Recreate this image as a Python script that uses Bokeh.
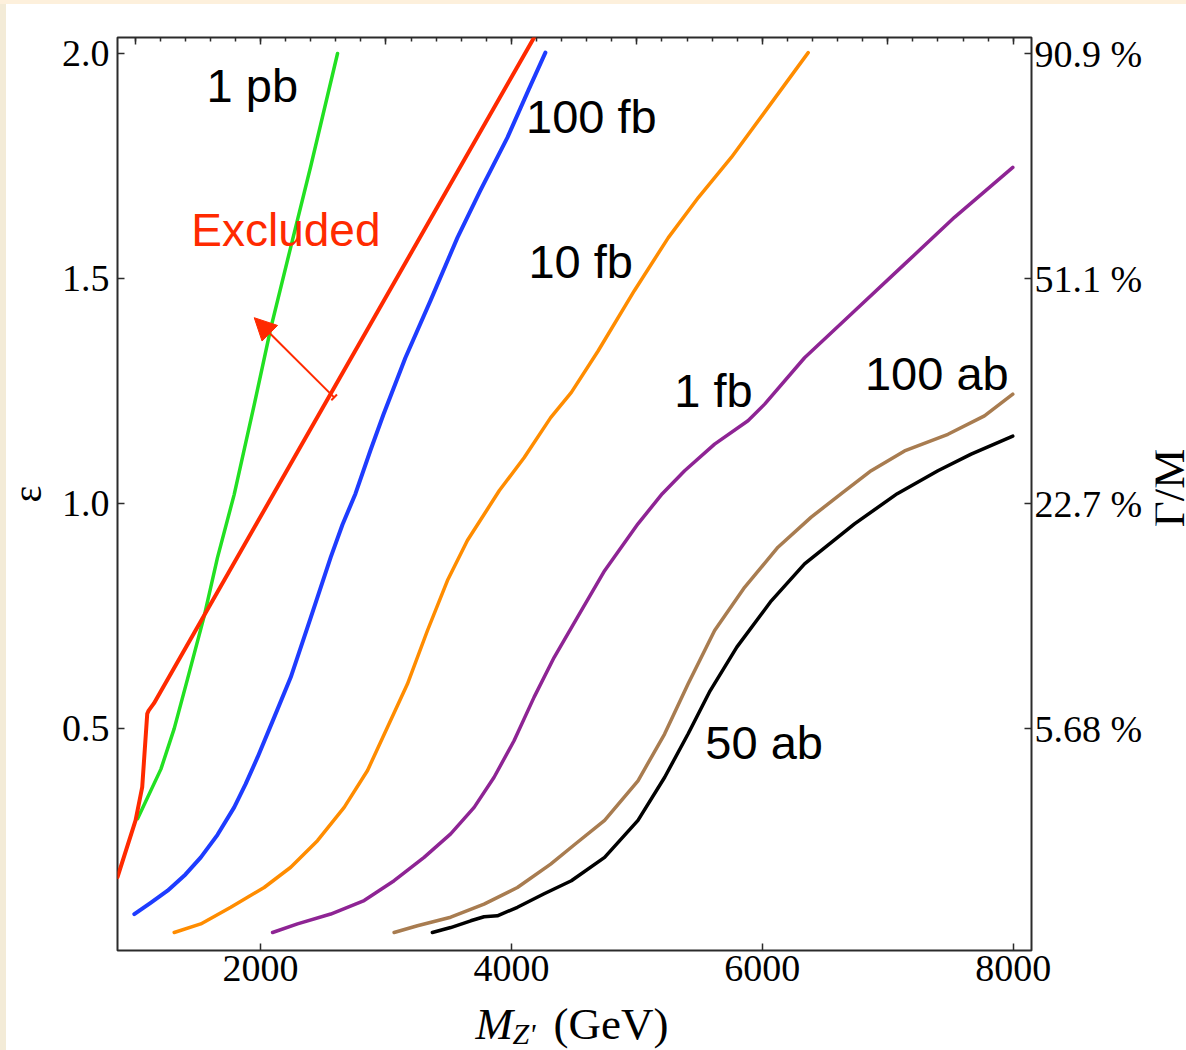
import math
from bokeh.plotting import figure
from bokeh.layouts import column, row
from bokeh.models import Range1d, LinearAxis, FixedTicker, Label, Arrow, NormalHead, TeeHead
from bokeh.embed import file_html
from bokeh.resources import INLINE

# ---------------- data ----------------
pb1_x = [1020, 1206, 1312, 1418, 1551, 1657, 1790, 1950, 2082, 2241, 2401, 2614]
pb1_y = [0.30, 0.41, 0.50, 0.61, 0.75, 0.88, 1.02, 1.22, 1.39, 1.57, 1.75, 2.00]

excl_x = [860, 1004, 1057, 1097, 1108, 1150, 4313]
excl_y = [0.170, 0.296, 0.370, 0.533, 0.540, 0.556, 2.10]

fb100_x = [994, 1124, 1259, 1402, 1524, 1657, 1790, 1880, 1976, 2109, 2241, 2401, 2560, 2653, 2757,
           2876, 2980, 3155, 3355, 3570, 3753, 3968, 4135, 4271]
fb100_y = [0.088, 0.113, 0.140, 0.176, 0.214, 0.264, 0.325, 0.376, 0.436, 0.525, 0.614, 0.747, 0.881,
           0.953, 1.022, 1.118, 1.198, 1.324, 1.451, 1.591, 1.696, 1.813, 1.918, 2.002]

fb10_x = [1312, 1524, 1763, 2029, 2241, 2454, 2667, 2853, 3012, 3171, 3331, 3490, 3649, 3801, 3904,
          4101, 4313, 4478, 4691, 4980, 5251, 5490, 5753, 6064, 6366]
fb10_y = [0.047, 0.066, 0.103, 0.147, 0.192, 0.251, 0.325, 0.407, 0.503, 0.599, 0.718, 0.829, 0.918,
          0.984, 1.029, 1.102, 1.191, 1.247, 1.339, 1.473, 1.591, 1.680, 1.769, 1.887, 2.002]

fb1_x = [2096, 2295, 2560, 2826, 3065, 3304, 3516, 3703, 3862, 4021, 4181, 4340, 4526, 4743, 5009,
         5203, 5381, 5620, 5886, 6019, 6337, 6735, 7134, 7532, 7997]
fb1_y = [0.047, 0.066, 0.088, 0.118, 0.162, 0.214, 0.266, 0.325, 0.392, 0.473, 0.570, 0.658, 0.747,
         0.851, 0.955, 1.022, 1.073, 1.132, 1.184, 1.221, 1.324, 1.428, 1.532, 1.636, 1.747]

ab100_x = [3065, 3251, 3516, 3782, 4048, 4313, 4502, 4743, 5009, 5221, 5408, 5620, 5859, 6125, 6390,
           6630, 6868, 7134, 7480, 7771, 7997]
ab100_y = [0.047, 0.062, 0.081, 0.110, 0.147, 0.199, 0.242, 0.296, 0.384, 0.488, 0.599, 0.718, 0.814,
           0.903, 0.970, 1.022, 1.073, 1.117, 1.154, 1.195, 1.243]

ab50_x = [3370, 3516, 3676, 3782, 3888, 4048, 4261, 4478, 4743, 5009, 5222, 5408, 5584, 5797, 6072,
          6337, 6735, 7076, 7400, 7665, 7997]
ab50_y = [0.047, 0.058, 0.073, 0.082, 0.084, 0.103, 0.133, 0.162, 0.214, 0.296, 0.392, 0.488, 0.584,
          0.681, 0.784, 0.866, 0.955, 1.022, 1.073, 1.110, 1.150]

x_ticks = [2000, 4000, 6000, 8000]
top_major = [1000, 2000, 3000, 4000, 5000, 6000, 7000, 8000]
top_minor = list(range(1000, 8001, 200))
y_ticks = [0.5, 1.0, 1.5, 2.0]
y_tick_labels = ["0.5", "1.0", "1.5", "2.0"]
width_labels = ["5.68 %", "22.7 %", "51.1 %", "90.9 %"]

curve_names = ["1 pb", "100 fb", "10 fb", "1 fb", "100 ab", "50 ab"]
name_x = [1570, 4117, 4136, 5299, 6818, 5546]
name_y = [1.930, 1.859, 1.537, 1.252, 1.288, 0.469]
excl_label = ("Excluded", 1448, 1.607)

arrow_from = (2587, 1.236)
arrow_to = (1950, 1.413)

SERIF = "Liberation Serif"
SANS = "Liberation Sans"
TICK_FS = "38px"
FRAME = "#2b2b2b"
TOP_STRIP = "#FDF0DC"
LEFT_STRIP = "#F3EBD7"

# ---------------- main figure ----------------
p = figure(width=1155, height=997,
           x_range=Range1d(860, 8146), y_range=Range1d(0.007, 2.0356),
           output_backend="svg", toolbar_location=None,
           min_border_left=117, min_border_top=37, min_border_right=124, min_border_bottom=47)
p.grid.visible = False
p.background_fill_color = "white"
p.border_fill_color = None
p.styles = {"background": f"linear-gradient(to bottom, {TOP_STRIP} 0px, {TOP_STRIP} 4px, transparent 4px), "
                          f"linear-gradient(to right, {LEFT_STRIP} 0px, {LEFT_STRIP} 6px, white 6px)"}
p.outline_line_color = FRAME
p.outline_line_width = 2


def style_axis(ax):
    ax.axis_line_color = None
    ax.major_tick_in = 7
    ax.major_tick_out = 0
    ax.minor_tick_in = 0
    ax.minor_tick_out = 0
    ax.major_tick_line_color = FRAME
    ax.major_tick_line_width = 1.5
    ax.major_label_text_font = SERIF
    ax.major_label_text_font_size = TICK_FS
    ax.major_label_text_color = "black"
    ax.axis_label_text_font = SERIF
    ax.axis_label_text_font_style = "normal"
    ax.axis_label_text_color = "black"


xa = p.xaxis[0]
style_axis(xa)
xa.ticker = FixedTicker(ticks=x_ticks, minor_ticks=[])
xa.major_label_standoff = 5

ya = p.yaxis[0]
style_axis(ya)
ya.ticker = FixedTicker(ticks=y_ticks, minor_ticks=[])
ya.major_label_overrides = dict(zip(y_ticks, y_tick_labels))
ya.major_label_standoff = 8
ya.axis_label = "ε"
ya.axis_label_text_font_size = "40px"
ya.axis_label_standoff = 9

top = LinearAxis(ticker=FixedTicker(ticks=top_major, minor_ticks=top_minor))
style_axis(top)
top.minor_tick_in = 4
top.minor_tick_line_color = FRAME
top.minor_tick_line_width = 1.5
top.major_label_overrides = {t: "" for t in top_major}
top.major_label_text_font_size = "1px"
top.major_label_standoff = 0
p.add_layout(top, "above")

right = LinearAxis(ticker=FixedTicker(ticks=y_ticks, minor_ticks=[]))
style_axis(right)
right.major_label_overrides = dict(zip(y_ticks, width_labels))
right.major_label_standoff = 3
p.add_layout(right, "right")

# curves
line_kw = dict(line_join="round", line_cap="round")
p.line(pb1_x, pb1_y, line_color="#22E022", line_width=3.5, **line_kw)
p.line(excl_x, excl_y, line_color="#FF2A00", line_width=4, **line_kw)
p.line(fb100_x, fb100_y, line_color="#1E3CFF", line_width=4, **line_kw)
p.line(fb10_x, fb10_y, line_color="#FF8C00", line_width=3.5, **line_kw)
p.line(fb1_x, fb1_y, line_color="#8E2494", line_width=3.5, **line_kw)
p.line(ab100_x, ab100_y, line_color="#A87C50", line_width=3.5, **line_kw)
p.line(ab50_x, ab50_y, line_color="black", line_width=3.5, **line_kw)

# arrow
p.add_layout(Arrow(x_start=arrow_from[0], y_start=arrow_from[1], x_end=arrow_to[0], y_end=arrow_to[1],
                   line_color="#FF2A00", line_width=2,
                   end=NormalHead(size=22, fill_color="#FF2A00", line_color="#FF2A00"),
                   start=TeeHead(size=8, line_color="#FF2A00", line_width=2)))

# curve names
for t, x, y in zip(curve_names, name_x, name_y):
    p.add_layout(Label(x=x, y=y, text=t, text_font=SANS, text_font_size="47px",
                       text_color="black", text_align="left", text_baseline="alphabetic"))
p.add_layout(Label(x=excl_label[1], y=excl_label[2], text=excl_label[0], text_font=SANS,
                   text_font_size="46px", text_color="#FF2A00", text_align="left",
                   text_baseline="alphabetic"))

# ---------------- strip on the right for the Γ/M title ----------------
r = figure(width=31, height=997, x_range=Range1d(0, 31), y_range=Range1d(0, 997),
           output_backend="svg", toolbar_location=None,
           x_axis_location=None, y_axis_location=None,
           min_border_left=0, min_border_right=0, min_border_top=0, min_border_bottom=0)
r.grid.visible = False
r.outline_line_color = None
r.background_fill_color = None
r.border_fill_color = None
r.styles = {"background": f"linear-gradient(to bottom, {TOP_STRIP} 0px, {TOP_STRIP} 4px, white 4px)"}
r.add_layout(Label(x=13, y=505, text="Γ/M", text_font=SERIF, text_font_size="45px",
                   angle=math.pi / 2, text_align="center", text_baseline="alphabetic",
                   text_color="black"))

# ---------------- strip below for the x-axis title ----------------
q = figure(width=1186, height=53, x_range=p.x_range, y_range=Range1d(0, 53),
           output_backend="svg", toolbar_location=None,
           x_axis_location=None, y_axis_location=None,
           min_border_left=117, min_border_right=155, min_border_top=0, min_border_bottom=0)
q.grid.visible = False
q.outline_line_color = None
q.background_fill_color = None
q.border_fill_color = None
q.styles = {"background": f"linear-gradient(to right, {LEFT_STRIP} 0px, {LEFT_STRIP} 6px, white 6px)"}
q.add_layout(Label(x=3713, y=26.6, text="M", text_font=SERIF, text_font_size="45px",
                   text_font_style="italic", text_align="left", text_baseline="alphabetic",
                   text_color="black"))
q.add_layout(Label(x=4008, y=17.3, text="Z'", text_font=SERIF, text_font_size="30px",
                   text_font_style="italic", text_align="left", text_baseline="alphabetic",
                   text_color="black"))
q.add_layout(Label(x=4335, y=26.6, text="(GeV)", text_font=SERIF, text_font_size="45px",
                   text_align="left", text_baseline="alphabetic", text_color="black"))

layout = column(row(p, r, spacing=0), q, spacing=0)
open("out.html", "w").write(file_html(layout, INLINE))
